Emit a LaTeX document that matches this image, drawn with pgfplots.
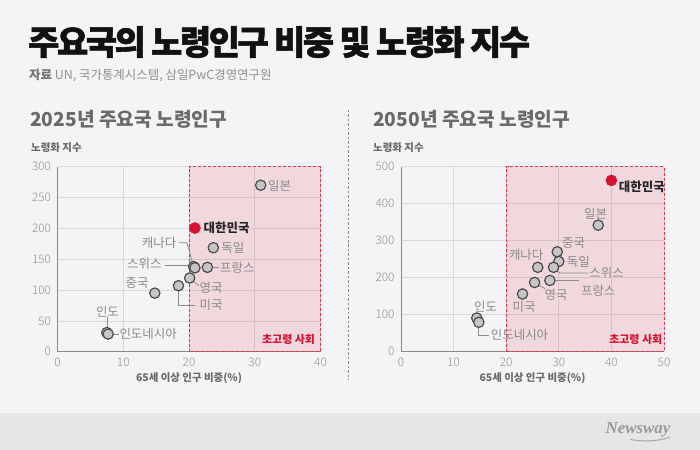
\documentclass[border=0pt]{standalone}
\usepackage{pgfplots}
\pgfplotsset{compat=1.18}
\usepackage{fontspec}
\setmainfont{Noto Sans CJK KR}
\newfontfamily\krblack[LetterSpace=-7, FakeBold=1.6]{Noto Sans CJK KR Black}
\newfontfamily\krlight{Noto Sans CJK KR Light}
\newfontfamily\logofont{Liberation Serif}

\definecolor{bgcol}{HTML}{F4F4F6}
\definecolor{footcol}{HTML}{E6E6E8}
\definecolor{titlecol}{HTML}{111111}
\definecolor{subcol}{HTML}{909090}
\definecolor{headcol}{HTML}{6A6A6A}
\definecolor{tickcol}{HTML}{8E8E8E}
\definecolor{gridcol}{HTML}{D9D9DB}
\definecolor{axiscol}{HTML}{8A8A8A}
\definecolor{labcol}{HTML}{8A8A8A}
\definecolor{leadcol}{HTML}{8C8C8C}
\definecolor{ptfill}{HTML}{C6C6C6}
\definecolor{ptdraw}{HTML}{4A4A4A}
\definecolor{korred}{HTML}{D7102F}
\definecolor{zonered}{HTML}{E2344E}

\tikzset{
  country/.style={font=\fontsize{12.5}{13}\selectfont, text=labcol, inner sep=0pt},
  korea/.style={font=\fontsize{12.5}{13}\selectfont\bfseries, text=black!85, inner sep=0pt},
  lead/.style={leadcol, line width=0.8pt},
  zone/.style={fill=korred, fill opacity=0.12, draw=zonered, draw opacity=1,
               dash pattern=on 3pt off 2pt, line width=0.9pt},
}
\pgfplotsset{
  panel/.style={
    width=263bp, height=185bp, scale only axis,
    clip=false,
    axis x line*=bottom, axis y line*=left,
    axis line style={axiscol, line width=0.8pt},
    grid=major, major grid style={gridcol, line width=0.7pt},
    major tick length=0pt,
    xmin=0, ymin=0,
    /pgf/number format/assume math mode=true,
    tick label style={font=\krlight\fontsize{11.8}{12}\selectfont, text=tickcol},
    xticklabel style={yshift=-3bp},
    yticklabel style={xshift=-3bp},
  },
  pts/.style={only marks, mark=*, mark size=5.2pt,
              mark options={fill=ptfill, draw=ptdraw, line width=1.2pt}},
  kpt/.style={only marks, mark=*, mark size=5.6pt,
              mark options={fill=korred, draw=korred}},
}

\begin{document}
\begin{tikzpicture}
\useasboundingbox (0bp,0bp) rectangle (700bp,450bp);
\fill[bgcol] (0bp,0bp) rectangle (700bp,450bp);
\fill[footcol] (0bp,0bp) rectangle (700bp,37bp);

% heading block
\node[anchor=west, inner sep=0pt, text=titlecol, font=\krblack\fontsize{34}{35}\selectfont]
  at (28bp,408bp) {주요국의 노령인구 비중 및 노령화 지수};
\node[anchor=west, inner sep=0pt, text=subcol, font=\fontsize{12.5}{13}\selectfont]
  at (29bp,374.5bp) {\textcolor{black!55}{\textbf{자료}} UN, 국가통계시스템, 삼일PwC경영연구원};

\node[anchor=west, inner sep=0pt, text=headcol, font=\bfseries\fontsize{19.3}{20}\selectfont]
  at (30bp,331bp) {2025년 주요국 노령인구};
\node[anchor=west, inner sep=0pt, text=headcol, font=\bfseries\fontsize{19.3}{20}\selectfont]
  at (373bp,331bp) {2050년 주요국 노령인구};
\node[anchor=west, inner sep=0pt, text=headcol, font=\bfseries\fontsize{10.5}{11}\selectfont]
  at (31bp,302bp) {노령화 지수};
\node[anchor=west, inner sep=0pt, text=headcol, font=\bfseries\fontsize{10.5}{11}\selectfont]
  at (373bp,302bp) {노령화 지수};
\node[inner sep=0pt, text=headcol, font=\bfseries\fontsize{10.5}{11}\selectfont]
  at (189bp,71.7bp) {65세 이상 인구 비중(\%)};
\node[inner sep=0pt, text=headcol, font=\bfseries\fontsize{10.5}{11}\selectfont]
  at (532.5bp,71.7bp) {65세 이상 인구 비중(\%)};

% divider between the two panels
\draw[axiscol, line width=0.8pt, dash pattern=on 2.5pt off 2pt] (348.3bp,340bp) -- (348.3bp,70bp);

% ---------------- 2025 ----------------
\begin{axis}[panel, at={(57.5bp,98.3bp)}, anchor=south west,
  xmax=40, ymax=300, xtick={0,10,...,40}, ytick={0,50,...,300}]
  \draw[zone] (axis cs:20,0) rectangle (axis cs:40,300);
  \node[anchor=east, inner sep=0pt, text=korred, font=\bfseries\fontsize{11}{12}\selectfont]
    at (axis cs:39.2,20) {초고령 사회};
  % leader lines
  \draw[lead] (axis cs:23.5,136.8) -- (axis cs:24.5,136.8);
  \draw[lead] (axis cs:18.5,176.8) -- (axis cs:19.7,176.8) -- (axis cs:20.7,137.5);
  \draw[lead] (axis cs:16.3,139.5) -- (axis cs:20.9,139.5);
  \draw[lead] (axis cs:20.1,119.5) -- (axis cs:21.5,107);
  \draw[lead] (axis cs:18.4,107) -- (axis cs:18.4,75.7) -- (axis cs:20.9,75.7);
  \draw[lead] (axis cs:7.6,57) -- (axis cs:7.6,31);
  \draw[lead] (axis cs:7.7,28.6) -- (axis cs:9.3,28.6);
  \addplot[pts] coordinates {
    (30.9,270) (23.7,168.6) (22.8,136.8) (20.7,138) (20.9,136)
    (20.1,119.5) (18.4,107) (14.8,95) (7.5,31) (7.7,28.6)};
  \addplot[kpt] coordinates {(20.9,200.5)};
  % labels
  \node[korea, anchor=west] at (axis cs:22.2,200.6) {대한민국};
  \node[country, anchor=west] at (axis cs:32.0,268.7) {일본};
  \node[country, anchor=west] at (axis cs:24.9,167.7) {독일};
  \node[country, anchor=west] at (axis cs:24.7,135.7) {프랑스};
  \node[country, anchor=east] at (axis cs:18.1,176.8) {캐나다};
  \node[country, anchor=east] at (axis cs:15.85,141.7) {스위스};
  \node[country, anchor=west] at (axis cs:21.6,103.8) {영국};
  \node[country, anchor=west] at (axis cs:21.6,75.7) {미국};
  \node[country] at (axis cs:12.1,111.9) {중국};
  \node[country] at (axis cs:7.6,64.4) {인도};
  \node[country, anchor=west] at (axis cs:9.4,28.2) {인도네시아};
\end{axis}

% ---------------- 2050 ----------------
\begin{axis}[panel, at={(401bp,98.3bp)}, anchor=south west,
  xmax=50, ymax=500, xtick={0,10,...,50}, ytick={0,100,...,500}]
  \draw[zone] (axis cs:20,0) rectangle (axis cs:50,500);
  \node[anchor=east, inner sep=0pt, text=korred, font=\bfseries\fontsize{11}{12}\selectfont]
    at (axis cs:49.7,33.6) {초고령 사회};
  % leader lines
  \draw[lead] (axis cs:29.0,228) -- (axis cs:30.2,212.6) -- (axis cs:35.6,212.6);
  \draw[lead] (axis cs:28.3,192.6) -- (axis cs:33.9,192.6);
  \draw[lead] (axis cs:25.4,187) -- (axis cs:27.4,170);
  \draw[lead] (axis cs:14.8,79.5) -- (axis cs:14.8,45.3) -- (axis cs:16.8,45.3);
  \addplot[pts] coordinates {
    (37.5,342) (29.7,270) (30.0,244) (29.0,228) (26.0,228)
    (28.3,192.6) (25.4,187) (23.1,156) (14.4,91) (14.8,79.5)};
  \addplot[kpt] coordinates {(40,463)};
  % labels
  \node[korea, anchor=west] at (axis cs:41.4,445.8) {대한민국};
  \node[country] at (axis cs:37.0,373.4) {일본};
  \node[country] at (axis cs:32.8,294) {중국};
  \node[country] at (axis cs:23.8,262) {캐나다};
  \node[country] at (axis cs:33.7,242.4) {독일};
  \node[country] at (axis cs:39.1,212.6) {스위스};
  \node[country] at (axis cs:37.5,165.4) {프랑스};
  \node[country] at (axis cs:29.5,153.7) {영국};
  \node[country] at (axis cs:23.4,122) {미국};
  \node[country] at (axis cs:16.1,122) {인도};
  \node[country, anchor=west] at (axis cs:17.05,45.3) {인도네시아};
\end{axis}

% footer logo
\node[inner sep=0pt, text=black!40, font=\logofont\bfseries\itshape\fontsize{17}{18}\selectfont]
  at (638bp,20bp) {Newsway};
\draw[black!35, line width=1pt] (630bp,10.5bp) .. controls (645bp,8bp) and (660bp,9bp) .. (670bp,13bp);
\end{tikzpicture}
\end{document}
